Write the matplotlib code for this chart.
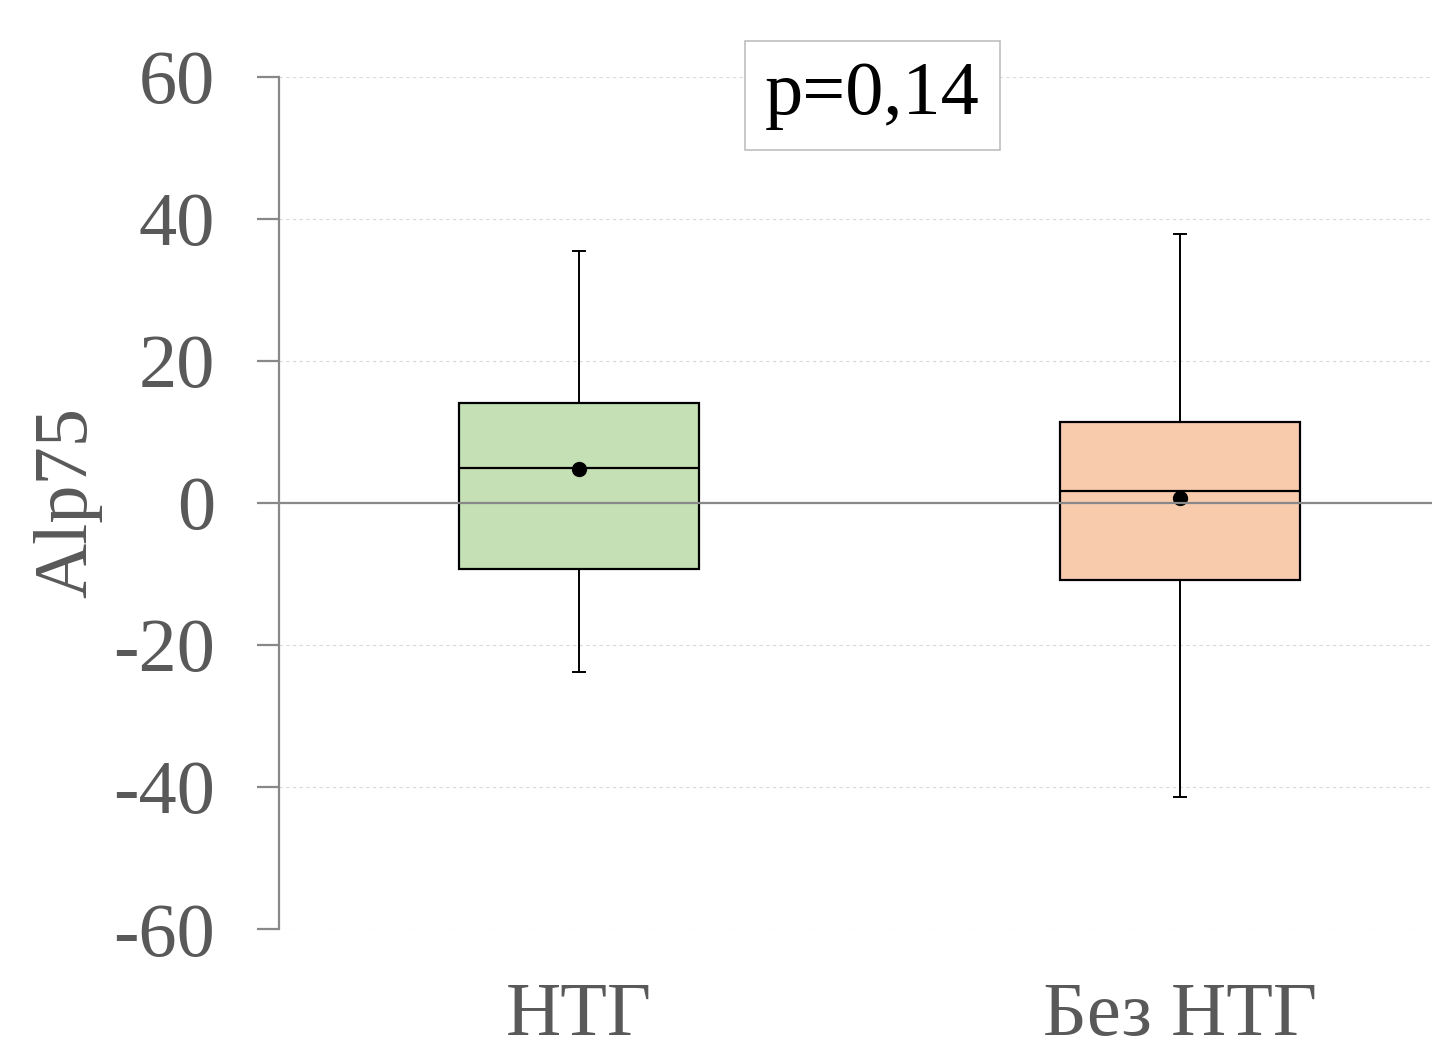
import matplotlib
matplotlib.use("Agg")
import matplotlib.pyplot as plt

# box statistics
groups = ["НТГ", "Без НТГ"]
q1 = [-9.3, -10.9]
med = [4.9, 1.7]
q3 = [14.1, 11.4]
whislo = [-23.8, -41.4]
whishi = [35.5, 37.9]
means = [4.8, 0.7]
fills = ["#C5E0B4", "#F8CBAD"]
p_text = "p=0,14"

GREY = "#595959"
plt.rcParams["font.family"] = ["Liberation Serif", "DejaVu Serif"]
plt.rcParams["axes.unicode_minus"] = False

fig = plt.figure(figsize=(14.32, 10.43), dpi=100, facecolor="white")
ax = fig.add_axes([0.1948, 0.1093, 0.8052, 0.8169])

stats = []
for i, g in enumerate(groups):
    stats.append({"label": g, "q1": q1[i], "med": med[i], "q3": q3[i],
                  "whislo": whislo[i], "whishi": whishi[i], "mean": means[i],
                  "fliers": []})

bp = ax.bxp(stats, positions=[1, 2], widths=0.4, patch_artist=True,
            showmeans=True, showfliers=False,
            boxprops=dict(edgecolor="black", linewidth=1.6),
            medianprops=dict(color="black", linewidth=1.6),
            whiskerprops=dict(color="black", linewidth=1.4),
            capprops=dict(color="black", linewidth=1.4),
            meanprops=dict(marker="o", markerfacecolor="black",
                           markeredgecolor="black", markersize=10),
            capwidths=0.02, zorder=3)
for patch, c in zip(bp["boxes"], fills):
    patch.set_facecolor(c)

ax.axhline(0, color="#888888", linewidth=1.6, zorder=4)

ax.set_xlim(0.5, 2.42)
ax.set_ylim(-60, 60)
ax.set_yticks(range(-60, 61, 20))
ax.yaxis.grid(True, linestyle=(0, (3, 3)), color="#D9D9D9", linewidth=0.8)
ax.set_axisbelow(True)

for s in ["top", "right", "bottom"]:
    ax.spines[s].set_visible(False)
ax.spines["left"].set_color("#888888")
ax.spines["left"].set_linewidth(1.6)

ax.tick_params(axis="y", length=16, width=1.6, color="#888888",
               pad=30, labelsize=55, labelcolor=GREY)
ax.tick_params(axis="x", length=0, pad=38, labelsize=55, labelcolor=GREY)
ax.set_xticks([1, 2])
ax.set_xticklabels(groups)

ax.set_ylabel("Alp75", fontsize=55, color=GREY, labelpad=8)

ax.text(1.488, 57.4, p_text, fontsize=55, color="black", ha="center",
        va="center", clip_on=False, zorder=6,
        bbox=dict(boxstyle="square,pad=0.26", facecolor="white",
                  edgecolor="#BFBFBF", linewidth=1.2))

fig.savefig("out.png", dpi=100, facecolor="white")
